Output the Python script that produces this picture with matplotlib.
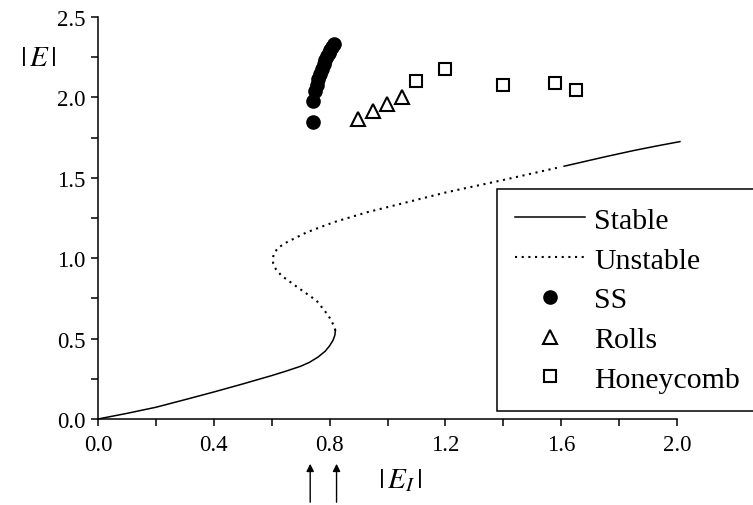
import numpy as np
import matplotlib.pyplot as plt

plt.rcParams['font.family'] = 'Liberation Serif'
plt.rcParams['mathtext.fontset'] = 'stix'

# homogeneous solution, lower stable branch
low_x = [0.0, 0.1, 0.2, 0.3, 0.4, 0.5, 0.6, 0.65, 0.7, 0.73, 0.76, 0.785, 0.80, 0.812, 0.818, 0.82]
low_y = [0.0, 0.035, 0.073, 0.12, 0.168, 0.218, 0.27, 0.298, 0.328, 0.352, 0.385, 0.422, 0.455, 0.49, 0.52, 0.55]
# unstable middle branch
mid_x = [0.82, 0.815, 0.796, 0.755, 0.698, 0.634, 0.615, 0.605, 0.604, 0.608, 0.622, 0.652, 0.721,
         0.813, 0.928, 1.043, 1.204, 1.389, 1.585]
mid_y = [0.55, 0.58, 0.643, 0.736, 0.808, 0.891, 0.93, 0.97, 1.0, 1.03, 1.065, 1.099, 1.161,
         1.223, 1.285, 1.337, 1.41, 1.482, 1.562]
# upper stable branch
up_x = [1.61, 1.75, 1.849, 1.93, 2.01]
up_y = [1.572, 1.63, 1.669, 1.698, 1.725]

# patterns
ss_x = [0.742, 0.743, 0.750, 0.755, 0.761, 0.767, 0.773, 0.779, 0.785, 0.791, 0.797, 0.803, 0.809, 0.815]
ss_y = [1.845, 1.975, 2.04, 2.08, 2.115, 2.145, 2.175, 2.205, 2.23, 2.255, 2.275, 2.295, 2.315, 2.33]
rolls_x = [0.899, 0.951, 0.999, 1.049]
rolls_y = [1.866, 1.917, 1.959, 2.0]
honey_x = [1.098, 1.199, 1.40, 1.579, 1.651]
honey_y = [2.104, 2.177, 2.077, 2.088, 2.046]

arrow_pos = [0.733, 0.824]

fig = plt.figure(figsize=(7.53, 5.06), dpi=100)
ax = fig.add_axes([98/753, 86/506, 579/753, 402/506])

ax.plot(low_x, low_y, color='black', lw=1.1, label='Stable', clip_on=False)
ax.plot(mid_x, mid_y, color='black', lw=1.5, ls=(0, (1, 2.2)), label='Unstable')
ax.plot(up_x, up_y, color='black', lw=1.1, clip_on=False)
ax.plot(ss_x, ss_y, 'o', color='black', ms=9.5, ls='none', label='SS')
ax.plot(rolls_x, rolls_y, '^', mfc='white', mec='black', mew=1.5, ms=9.5, ls='none', label='Rolls')
ax.plot(honey_x, honey_y, 's', mfc='white', mec='black', mew=1.5, ms=9, ls='none', label='Honeycomb')

ax.set_xlim(0, 2.0)
ax.set_ylim(0, 2.5)
ax.set_xticks(np.arange(0, 2.01, 0.4))
ax.set_xticks(np.arange(0, 2.01, 0.2), minor=True)
ax.set_yticks(np.arange(0, 2.51, 0.5))
ax.set_yticks(np.arange(0, 2.51, 0.25), minor=True)
ax.set_xticklabels(['%.1f' % v for v in np.arange(0, 2.01, 0.4)])
ax.set_yticklabels(['%.1f' % v for v in np.arange(0, 2.51, 0.5)])
ax.tick_params(which='both', direction='out', length=5, width=1.1, labelsize=16.5)
ax.tick_params(axis='x', pad=6)
ax.tick_params(axis='y', pad=4)
ax.spines['top'].set_visible(False)
ax.spines['right'].set_visible(False)
ax.spines['left'].set_linewidth(1.1)
ax.spines['bottom'].set_linewidth(1.1)

leg = ax.legend(loc='upper left', bbox_to_anchor=(0.689, 0.0, 0.5, 0.572), mode='expand',
                fontsize=21.5, frameon=True, fancybox=False, framealpha=1, edgecolor='black',
                handlelength=2.35, handletextpad=0.3, borderpad=0.6, labelspacing=0.43,
                borderaxespad=0)
leg.get_frame().set_linewidth(1.1)

fig.text(38/753, 1 - 59/506, r'$|\,E\,|$', fontsize=21, ha='center', va='center')
fig.text(400/753, 1 - 481/506, r'$|\,E_I\,|$', fontsize=21, ha='center', va='center')

for p in arrow_pos:
    ax.annotate('', xy=(p, 1 - 462/506), xytext=(p, 0.0),
                xycoords=('data', 'figure fraction'), textcoords=('data', 'figure fraction'),
                arrowprops=dict(arrowstyle='-|>', color='black', lw=1, mutation_scale=11))

plt.savefig('out.png', dpi=100)
